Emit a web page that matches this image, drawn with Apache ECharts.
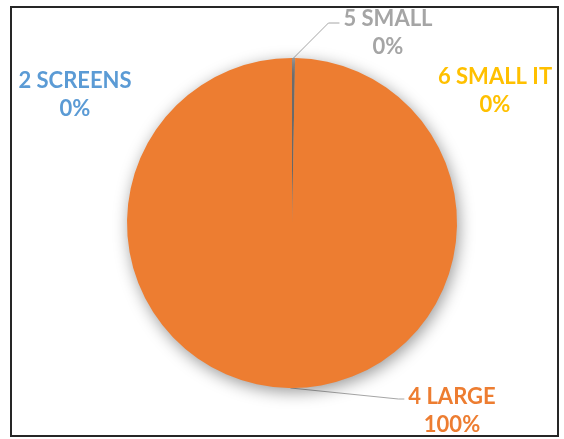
<!DOCTYPE html>
<html>
<head>
<meta charset="utf-8">
<script src="https://cdn.jsdelivr.net/npm/echarts@6/dist/echarts.min.js"></script>
<style>
html,body{margin:0;padding:0;background:#fff;}
#chart{width:564px;height:439px;}
</style>
</head>
<body>
<div id="chart"></div>
<script>
// Data
var categories = ['2 SCREENS', '5 SMALL', '4 LARGE', '6 SMALL IT'];
var values = [0, 3, 997, 0];
var colors = ['#5B9BD5', '#A5A5A5', '#ED7D31', '#FFC000'];

// Label placement (center x, first-line center y) and whether a leader line is drawn
var labelPos = {
  '2 SCREENS': [75, 81, false],
  '5 SMALL': [388, 19, true],
  '4 LARGE': [452, 397, true],
  '6 SMALL IT': [495, 77, false]
};
var LINE_H = 28;

var chart = echarts.init(document.getElementById('chart'), null, {renderer: 'canvas'});

var data = categories.map(function (c, i) {
  return {
    name: c,
    value: values[i],
    itemStyle: {color: colors[i]},
    label: {color: colors[i]},
    labelLine: {show: labelPos[c][2]}
  };
});

chart.setOption({
  backgroundColor: '#ffffff',
  animation: false,
  graphic: [{
    type: 'rect',
    shape: {x: 11, y: 7, width: 547, height: 429},
    style: {fill: 'none', stroke: '#262626', lineWidth: 2},
    silent: true
  }],
  series: [{
    type: 'pie',
    center: [292, 223],
    radius: [0, 165],
    startAngle: 90,
    clockwise: true,
    avoidLabelOverlap: false,
    percentPrecision: 0,
    data: data,
    itemStyle: {
      borderWidth: 0,
      shadowBlur: 16,
      shadowColor: 'rgba(0,0,0,0.4)',
      shadowOffsetX: 2,
      shadowOffsetY: 4
    },
    label: {
      show: true,
      position: 'outside',
      formatter: '{b}\n{d}%',
      fontFamily: 'Lato',
      fontWeight: 'bold',
      fontSize: 22,
      lineHeight: LINE_H,
      align: 'center'
    },
    labelLine: {
      show: true,
      length: 10,
      length2: 10,
      lineStyle: {color: '#A6A6A6', width: 1}
    },
    labelLayout: function (params) {
      var name = categories[params.dataIndex];
      var p = labelPos[name];
      var top = p[1] - LINE_H / 2;
      var out = {x: p[0], y: top, align: 'center', verticalAlign: 'top'};
      if (p[2] && params.labelLinePoints) {
        var anchor = params.labelLinePoints[0];
        var ctx = document.createElement('canvas').getContext('2d');
        ctx.font = 'bold 22px Lato';
        var firstW = ctx.measureText(name).width;
        var left = p[0] - firstW / 2 - 4;
        var dy = name === '5 SMALL' ? 4 : 2;
        var elbow = name === '5 SMALL' ? [left - 11, p[1] + dy] : [left - 6, p[1] + dy];
        out.labelLinePoints = [anchor, elbow, [left, p[1] + dy]];
      }
      return out;
    }
  }]
});
</script>
</body>
</html>
